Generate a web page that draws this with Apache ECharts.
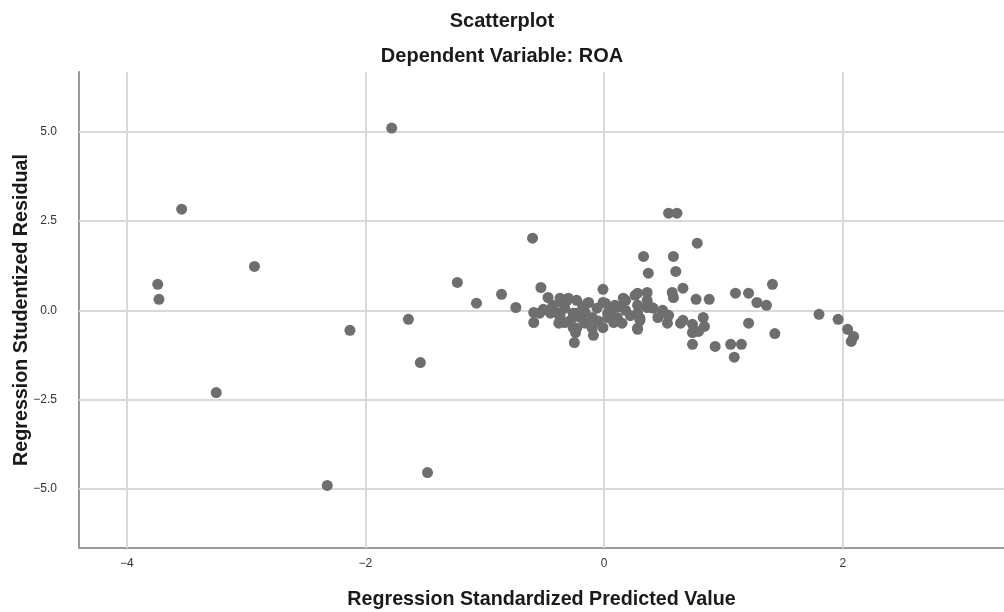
<!DOCTYPE html>
<html>
<head>
<meta charset="utf-8">
<script src="https://cdn.jsdelivr.net/npm/echarts@6/dist/echarts.min.js"></script>
<style>
html,body{margin:0;padding:0;background:#fff;}
#chart{width:1004px;height:612px;}
</style>
</head>
<body>
<div id="chart"></div>
<script>
const titleText = 'Scatterplot';
const subtitleText = 'Dependent Variable: ROA';
const xAxisTitle = 'Regression Standardized Predicted Value';
const yAxisTitle = 'Regression Studentized Residual';

const xTicks = [-4, -2, 0, 2];
const yTicks = [-5, -2.5, 0, 2.5, 5];
const xRange = [-4.4, 3.35];
const yRange = [-6.65, 6.67];

const predicted = [
  -1.78, -3.54, -3.74, -3.73, -2.93, -3.25, -2.32, -1.48, -2.13, -1.64,
  -1.54, -1.23, -1.07, -0.86, -0.74, -0.60, -0.53,
  -0.59, -0.59, -0.47, -0.51, -0.43, -0.37, -0.30, -0.45, -0.39, -0.33,
  -0.37, -0.33, -0.26, -0.24, -0.25, -0.23, -0.23, -0.13, -0.01, -0.01,
  -0.26, -0.16, -0.06, 0.05, 0.09, 0.16, 0.18, 0.26, 0.28, 0.28,
  0.36, -0.23, -0.10, -0.09, -0.01, 0.08, 0.15, 0.28, 0.03, -0.16,
  0.11, 0.01, 0.37, 0.36, 0.41, 0.28,
  -0.31, -0.14, -0.20, -0.24, 0.03, 0.08, 0.11, 0.18, -0.54, -0.43,
  -0.37, -0.38, -0.28, 0.28, 0.30, 0.40, 0.49, -0.10, -0.05, 0.13,
  -0.18, -0.35, 0.22, 0.45,
  0.54, 0.61, 0.78, 0.33, 0.58, 0.60, 0.57, 0.58, 0.66, 0.36,
  0.49, 0.54, 0.30, 0.53, 0.64, 0.66, 0.74, 0.83, 0.84, 0.74,
  0.79, 0.74, 0.93, 0.77, 0.88, 1.10, 1.21, 1.28, 1.36, 1.41,
  1.21, 1.43, 1.06, 1.15, 1.09, 1.80, 1.96, 2.04, 2.09, 2.07
];
const residual = [
  5.10, 2.83, 0.73, 0.31, 1.23, -2.30, -4.90, -4.54, -0.56, -0.25,
  -1.46, 0.78, 0.20, 0.45, 0.08, 2.02, 0.64,
  -0.06, -0.34, 0.36, 0.03, 0.14, 0.34, 0.34, -0.08, -0.08, 0.06,
  -0.28, -0.34, -0.48, -0.62, -0.90, -0.08, 0.28, 0.22, 0.59, 0.22,
  -0.08, -0.06, 0.06, 0.00, 0.14, 0.34, 0.00, 0.42, 0.14, -0.08,
  0.08, -0.50, -0.50, -0.70, -0.48, -0.34, -0.36, -0.50, -0.20, -0.36,
  -0.20, 0.20, 1.04, 0.50, 0.06, -0.53,
  0.28, 0.20, -0.20, -0.56, -0.08, 0.08, -0.28, 0.28, -0.08, 0.08,
  -0.14, -0.36, -0.28, 0.48, -0.28, 0.08, -0.08, -0.20, -0.30, 0.10,
  0.10, 0.20, -0.15, -0.20,
  2.72, 2.72, 1.88, 1.51, 1.51, 1.09, 0.50, 0.36, 0.62, 0.28,
  0.00, -0.14, -0.22, -0.36, -0.36, -0.28, -0.39, -0.20, -0.45, -0.62,
  -0.59, -0.95, -1.01, 0.31, 0.31, 0.48, 0.48, 0.22, 0.14, 0.73,
  -0.36, -0.65, -0.95, -0.95, -1.31, -0.11, -0.25, -0.53, -0.73, -0.87
];

const points = predicted.map((x, i) => [x, residual[i]]);
const fmt = v => (v < 0 ? '\u2212' : '') + Math.abs(v);
const fmtY = v => (v < 0 ? '\u2212' : '') + Math.abs(v).toFixed(1);

const gridColor = '#d9d9d9';
const fontFamily = '"Liberation Sans", Arial, sans-serif';

const chart = echarts.init(document.getElementById('chart'), null, {renderer: 'canvas'});
chart.setOption({
  animation: false,
  backgroundColor: '#ffffff',
  title: [
    {text: titleText, left: 'center', top: 6, textStyle: {fontFamily, fontWeight: 'bold', fontSize: 20, color: '#1a1a1a'}},
    {text: subtitleText, left: 'center', top: 41, textStyle: {fontFamily, fontWeight: 'bold', fontSize: 20, color: '#1a1a1a'}}
  ],
  grid: {left: 79, right: 0, top: 72, bottom: 64, containLabel: false, outerBoundsMode: 'none'},
  xAxis: {
    type: 'value',
    min: xRange[0], max: xRange[1],
    name: xAxisTitle, nameLocation: 'middle', nameGap: 42, nameMoveOverlap: false,
    nameTextStyle: {fontFamily, fontWeight: 'bold', fontSize: 19.7, color: '#1a1a1a'},
    axisLine: {show: true, onZero: false, lineStyle: {color: '#9a9a9a', width: 2}},
    axisTick: {show: false},
    splitLine: {show: false},
    axisLabel: {customValues: xTicks, formatter: fmt, fontFamily, fontSize: 12, color: '#333', margin: 10}
  },
  yAxis: {
    type: 'value',
    min: yRange[0], max: yRange[1],
    name: yAxisTitle, nameLocation: 'middle', nameGap: 47, nameMoveOverlap: false,
    nameTextStyle: {fontFamily, fontWeight: 'bold', fontSize: 19.7, color: '#1a1a1a'},
    axisLine: {show: true, onZero: false, lineStyle: {color: '#9a9a9a', width: 2}},
    axisTick: {show: false},
    splitLine: {show: false},
    axisLabel: {customValues: yTicks, formatter: fmtY, fontFamily, fontSize: 12, color: '#333', margin: 22}
  },
  series: [{
    type: 'scatter',
    data: points,
    symbolSize: 11,
    itemStyle: {color: '#6e6e6e', opacity: 1},
    z: 5,
    markLine: {
      silent: true,
      symbol: ['none', 'none'],
      label: {show: false},
      lineStyle: {color: gridColor, width: 2, type: 'solid'},
      z: 1,
      data: xTicks.map(v => ({xAxis: v})).concat(yTicks.map(v => ({yAxis: v})))
    }
  }]
});
</script>
</body>
</html>
